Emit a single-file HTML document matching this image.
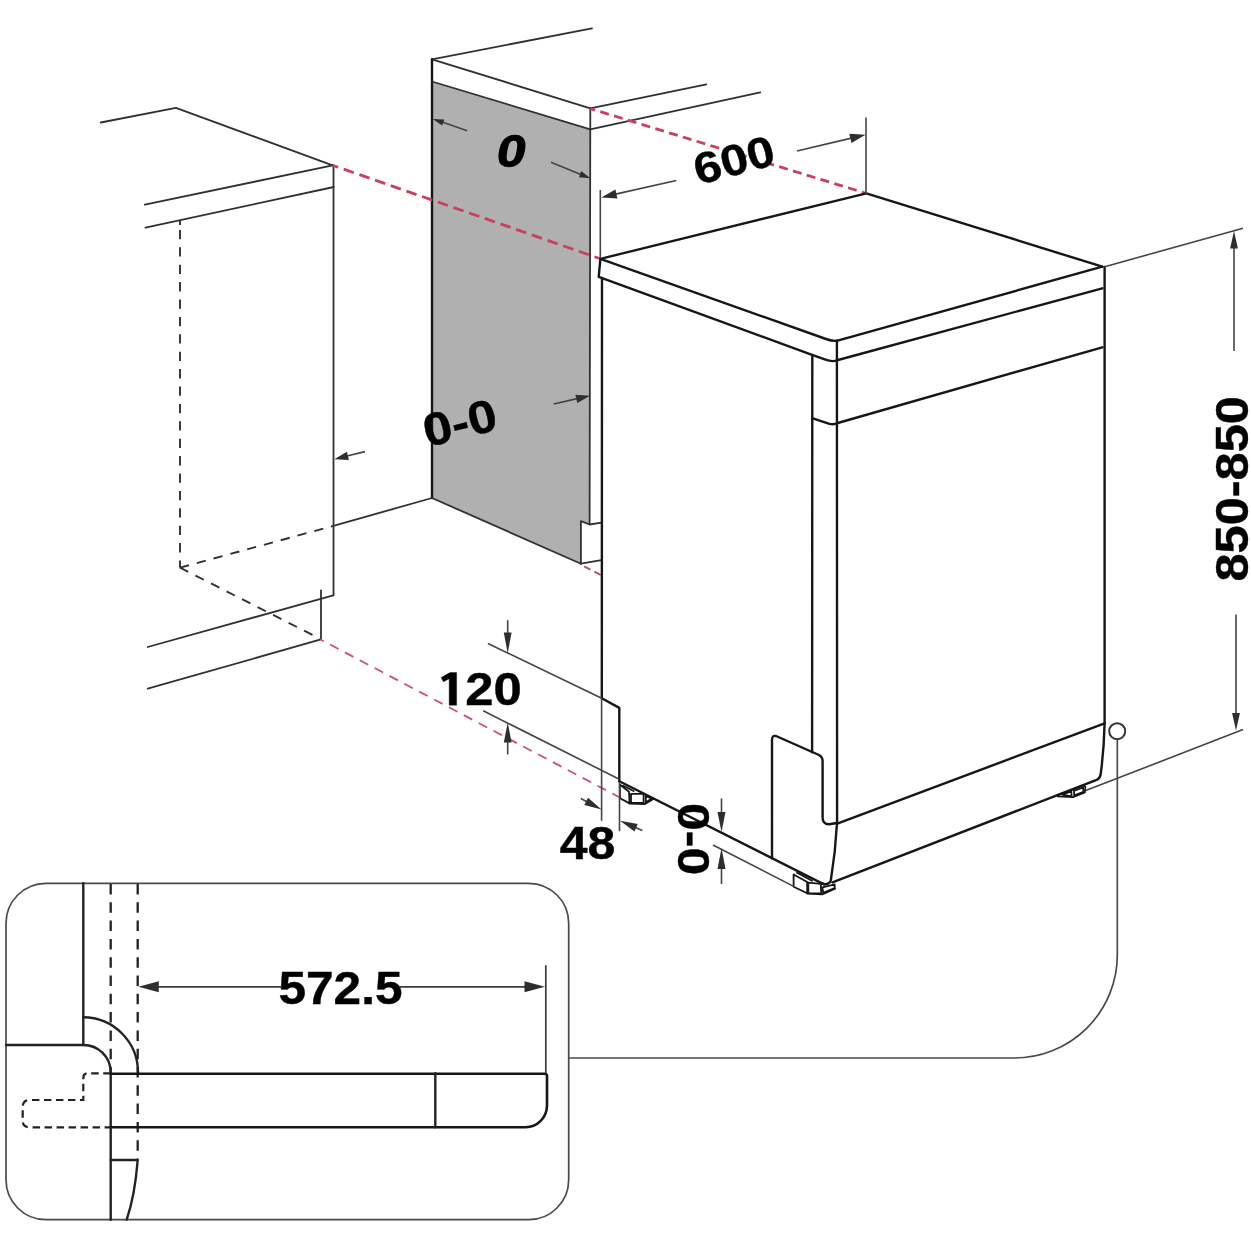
<!DOCTYPE html>
<html><head><meta charset="utf-8">
<style>
html,body{margin:0;padding:0;background:#fff;}
svg{display:block;filter:blur(0.45px);}
text{font-family:"Liberation Sans",sans-serif;font-weight:bold;fill:#000;stroke:#000;stroke-width:0.4;}
.m{stroke:#161616;stroke-width:2.4;fill:none;stroke-linecap:round;stroke-linejoin:round;}
.c{stroke:#303030;stroke-width:1.8;fill:none;stroke-linecap:round;stroke-linejoin:round;}
.t{stroke:#444;stroke-width:1.6;fill:none;stroke-linecap:butt;}
.d{stroke:#303030;stroke-width:1.9;fill:none;stroke-dasharray:9.3 8.1;}
.r{stroke:#c93f5e;stroke-width:2.8;fill:none;}
.b{stroke:#4a4a4a;stroke-width:1.7;fill:none;}
.a{fill:#2e2e2e;stroke:none;}
#inset .c{stroke-width:2.4;stroke:#222;}
#inset .m{stroke-width:2.6;}
#inset .t{stroke-width:1.7;stroke:#3a3a3a;}
#inset .d{stroke-width:2.3;stroke:#222;stroke-dasharray:10.5 7.8;}
#inset .d2{stroke-width:2.2;stroke:#222;fill:none;stroke-dasharray:7.5 4.5;}
.f{stroke:#161616;stroke-width:1.8;fill:none;stroke-linejoin:round;stroke-linecap:round;}
</style></head><body>
<svg width="1251" height="1251" viewBox="0 0 1251 1251">
<rect width="1251" height="1251" fill="#fff"/>

<g id="leftcab">
<path class="c" d="M100.8 122.5 L175.9 107.8 L332.6 165.3"/>
<path class="c" d="M144.9 204.7 L332.6 165.3"/>
<path class="c" d="M145.5 227.7 L333.8 187"/>
<path class="c" d="M333.5 165.3 L333.5 595.3"/>
<path class="d" d="M180 220.3 L180 225"/>
<path class="d" d="M180 229.9 L180 567.7"/>
<path class="d" d="M180 567.7 L331.7 526.3"/>
<path class="c" d="M331.7 526.3 L432 498"/>
<path class="d" d="M180 567.7 L320 638.7"/>
<path class="c" d="M147.7 647 L333.3 595.3"/>
<path class="c" d="M321 590.3 L321 638.7"/>
<path class="c" d="M147.7 688.7 L320 639.7"/>
</g>
<g id="midcab">
<path d="M432 81.5 L590.3 129.3 L589.6 524.5 L580.9 521.2 L580.9 563.7 L432 498 Z" fill="#b0b0b0"/>
<path class="c" d="M432 59.3 L592 28.3"/>
<path class="c" d="M432 59.3 L590.3 108.3"/>
<path class="m" d="M432 59.3 L432 498"/>
<path class="c" d="M432 81.5 L590.3 129.3"/>
<path class="c" d="M590.3 108.3 L589.6 524"/>
<path class="c" d="M590.3 108.3 L706.3 84.3"/>
<path class="c" d="M590.3 129.3 L760.3 92.3"/>
<path class="c" d="M432 498 L580.9 563.7"/>
<path class="c" d="M580.9 563.7 L580.9 521.2 L589.6 524.5 L601.4 522.7"/>
<path class="c" d="M580.9 563.7 L601.4 560.1"/>
</g>
<g id="red">
<path class="r" d="M332.6 165.3 L599 258.3" stroke-dasharray="10.7 5.9" stroke-dashoffset="4.8"/>
<path class="r" d="M590.3 108.6 L866 193.3" stroke-dasharray="9 5.4" stroke-dashoffset="4"/>
<path class="r" d="M320.5 639.5 L619.5 797.3" stroke-dasharray="9.6 7.2" stroke-dashoffset="-10.8" style="stroke:#cc5070;stroke-width:1.8"/>
<path class="r" d="M581.5 565 L601.4 575.2" stroke-dasharray="7 4.5" stroke-dashoffset="-3" style="stroke:#b8506a;stroke-width:2"/>
</g>
<g id="app">
<path class="m" d="M600.4 258.8 L866.3 193.3 L1102.3 266.7"/>
<path class="m" d="M600.4 258.8 L826 339 Q833.5 341.8 838.5 340.4 L1102.3 266.7"/>
<path class="m" d="M600.4 258.8 L598.7 276.8 L811.4 354.6 L825.5 359.7 Q832.5 362.3 838 360 L1102.3 288.3"/>
<path class="m" d="M602 278 L601.8 698.3 L619.3 707.9 L619.3 781.2"/>
<path class="m" d="M812.3 355 L812.1 752.3"/>
<path class="m" d="M836.9 340.8 L837.1 823"/>
<path class="m" d="M812.1 418.2 L829.4 423.8 Q834 425 837.8 423 L1102.3 347.3"/>
<path class="m" d="M1104.6 267 L1104.6 723.3"/>
<path class="m" d="M837.3 823.7 L1104.6 723.3"/>
<path class="m" d="M1104.6 723.3 Q1104 750 1100.7 774 Q1100 778.5 1096 780.2 L832.5 882.3"/>
<path class="m" d="M837 823 Q835.5 852 830.8 880.5 Q830 883.5 826 884.2 Q824 884.4 822 883.4"/>
<path class="m" d="M772 858.4 L772 740 Q772 735 776 736 L819 755 Q822.6 757 822.6 761 L822.6 818 Q822.6 824 829 824.3 L837 823"/>
<path class="m" d="M619.3 781.2 L824 884.4"/>
<path class="f" d="M619.8 784.5 L629 791.8 L629.6 803.4 L620 798.2 Z"/>
<path class="f" d="M623.2 785.8 L633.6 791"/>
<path class="f" d="M631 793.8 H643.6 V802.8 H631 Z"/>
<path class="f" d="M645.8 796 L651.6 798.6 L645.8 802.6 Z"/>
<path class="f" d="M629.6 803.5 L645 804 L653 799.2"/>
<path class="f" d="M793.6 874.5 L807.2 882 L807.2 893.2 L793.6 886.8 Z"/>
<path class="f" d="M797 872.8 L812 880.8"/>
<path class="f" d="M808.3 882.6 L820.8 883.8 L821.2 893.4 L808.3 893.2 Z"/>
<path class="f" d="M822.4 887.4 L834.7 884.4 L834.7 888.2 L823.2 892.8 Z"/>
<path class="f" d="M807.2 893.6 L822.3 894.4 L835 888.8"/>
<path class="f" d="M1056.7 795.4 L1072.5 789.7 L1083.1 785.3 L1085.3 786.8 L1084.9 792.3 L1073 797.2 L1057.6 796.3 Z"/>
<path class="f" d="M1073.9 790.8 L1083.1 787.3 L1083.5 791.9 L1074.3 795.4 Z"/>
<path class="f" d="M1062 794.6 L1071.2 791.5 L1071.7 796.3 Z"/>
</g>
<g id="dims">
<path class="t" d="M467.2 130.7 L441.3 121.8"/>
<path class="a" d="M432.8 118.9 L444.3 119.4 L442.2 125.5 Z"/>
<path class="t" d="M551.0 162.3 L582.0 174.9"/>
<path class="a" d="M590.3 178.3 L578.9 177.2 L581.3 171.1 Z"/>
<path class="t" d="M553.7 404.0 L578.3 398.4"/>
<path class="a" d="M590.0 395.8 L577.3 403.0 L575.4 394.7 Z"/>
<path class="t" d="M365.0 451.6 L345.9 456.3"/>
<path class="a" d="M334.3 459.2 L346.9 451.7 L348.9 460.0 Z"/>
<path class="t" d="M600.3 190 L600.3 258.3"/>
<path class="t" d="M866 117.5 L866 194"/>
<path class="t" d="M676.3 180.5 L614.5 194.4"/>
<path class="a" d="M601.3 197.4 L615.4 189.5 L617.4 198.5 Z"/>
<path class="t" d="M797.0 151.0 L852.4 137.9"/>
<path class="a" d="M865.5 134.8 L851.5 142.9 L849.3 133.8 Z"/>
<path class="t" d="M1104.7 266.7 L1243 228.2"/>
<path class="t" d="M1085.7 790.6 L1243 729.6"/>
<path class="t" d="M1234.0 351.0 L1234.0 246.5"/>
<path class="a" d="M1234.0 231.0 L1237.9 248.5 L1230.1 248.5 Z"/>
<path class="t" d="M1236.0 614.4 L1236.0 715.0"/>
<path class="a" d="M1236.0 730.5 L1232.1 713.0 L1239.9 713.0 Z"/>
<path class="t" d="M487.9 643.5 L601.7 698.2"/>
<path class="t" d="M483.2 710.8 L619.3 779.2"/>
<path class="t" d="M507.7 620.2 L507.7 634.5"/>
<path class="a" d="M507.7 653.5 L503.8 632.5 L511.6 632.5 Z"/>
<path class="t" d="M507.7 754.5 L507.7 740.5"/>
<path class="a" d="M507.7 722.5 L511.6 742.5 L503.8 742.5 Z"/>
<path class="t" d="M601.6 698.4 L601.6 820.8"/>
<path class="t" d="M619.5 782.3 L619.5 831.2"/>
<path class="t" d="M580.8 798.5 L587.9 802.3"/>
<path class="a" d="M601.6 809.6 L584.3 804.9 L588.0 797.8 Z"/>
<path class="t" d="M642.3 830.4 L634.2 826.9"/>
<path class="a" d="M620.0 820.8 L637.7 824.0 L634.5 831.4 Z"/>
<path class="t" d="M713 845 L793.6 886.4"/>
<path class="t" d="M721.5 798.4 L721.5 814.0"/>
<path class="a" d="M721.5 832.0 L717.5 812.0 L725.5 812.0 Z"/>
<path class="t" d="M721.5 884.0 L721.5 867.0"/>
<path class="a" d="M721.5 848.0 L725.5 869.0 L717.5 869.0 Z"/>
</g>
<g id="callout">
<circle cx="1117.2" cy="731.2" r="8" fill="#fff" stroke="#333" stroke-width="2"/>
<path class="b" d="M1117.3 739.3 L1117.3 955 A103 103 0 0 1 1014.3 1058 L568.7 1058"/>
<rect class="b" x="6" y="883.3" width="562.7" height="336.4" rx="40" ry="40"/>
</g>
<g id="inset">
<path class="c" d="M83.3 883.3 L83.3 1045"/>
<path class="c" d="M6 1045 L83.3 1045 A27.3 27.3 0 0 1 110.7 1072.3"/>
<path class="c" d="M83.3 1017.3 A55 55 0 0 1 138 1072.3"/>
<path class="d" d="M110.7 884 L110.7 1072.3"/>
<path class="d" d="M137.7 884 L137.7 1159"/>
<path class="c" d="M110.7 1072.3 L110.7 1219.7"/>
<path class="m" d="M110.7 1073.8 L544.8 1073.8 Q547 1073.8 547 1076 L547 1105.5 A21.5 21.7 0 0 1 525.5 1127.2 L110.7 1127.2"/>
<path class="c" d="M435.3 1073.3 L435.3 1127.3"/>
<path class="d2" d="M110.7 1073.3 L88 1073.3 Q83.3 1073.3 83.3 1078 L83.3 1100 L30 1100 Q22.7 1100 22.7 1107 L22.7 1120.7 Q22.7 1127.3 30 1127.3 L110.7 1127.3"/>
<path class="c" d="M110.7 1160 L137.7 1160 Q135 1195 126.7 1219.7"/>
<path class="t" d="M545.8 965.2 L545.8 1073.8"/>
<path class="t" d="M281.0 986.8 L156.8 986.8"/>
<path class="a" d="M138.3 986.8 L158.8 981.3 L158.8 992.3 Z"/>
<path class="t" d="M400.0 986.8 L526.5 986.8"/>
<path class="a" d="M545.0 986.8 L524.5 992.3 L524.5 981.3 Z"/>
</g>
<g id="mask"><ellipse cx="733.8" cy="160.3" rx="6" ry="12" transform="rotate(-15 733.8 160.3)" fill="#fff"/><ellipse cx="760.3" cy="153.2" rx="6" ry="12" transform="rotate(-15 760.3 153.2)" fill="#fff"/></g>
<g id="text">
<text x="340.5" y="1004" font-size="46.5" text-anchor="middle" textLength="124" lengthAdjust="spacingAndGlyphs">572.5</text>
<path d="M456.6 672.6 L450 672.6 L441.2 677.6 L443.4 681.8 L449.2 678.8 L449.2 705.2 L456.6 705.2 Z" fill="#000" stroke="#000" stroke-width="0.4"/>
<text x="465.3" y="705" font-size="46" text-anchor="start" textLength="56.5" lengthAdjust="spacingAndGlyphs">20</text>
<text x="587.4" y="858.5" font-size="45.6" text-anchor="middle" textLength="55.5" lengthAdjust="spacingAndGlyphs">48</text>
<text transform="translate(734,160) rotate(-15)" x="0" y="15" font-size="43.5" text-anchor="middle" textLength="82" lengthAdjust="spacingAndGlyphs">600</text>
<text transform="translate(511,150.2) rotate(-2) scale(1.18,1)" x="0" y="16" font-size="44" text-anchor="middle" font-style="italic" style="stroke-width:1.1">0</text>
<text transform="translate(459.8,422.6) rotate(-14)" x="0" y="16" font-size="46" text-anchor="middle" textLength="74.5" lengthAdjust="spacingAndGlyphs">0-0</text>
<text transform="translate(1248.2,488.8) rotate(-90)" x="0" y="0" font-size="46.3" text-anchor="middle" textLength="185.5" lengthAdjust="spacingAndGlyphs">850-850</text>
<text transform="translate(677.8,839.1) rotate(90)" x="0" y="0" font-size="44.2" text-anchor="middle" textLength="72" lengthAdjust="spacingAndGlyphs">0-0</text>
</g>

</svg>
</body></html>
